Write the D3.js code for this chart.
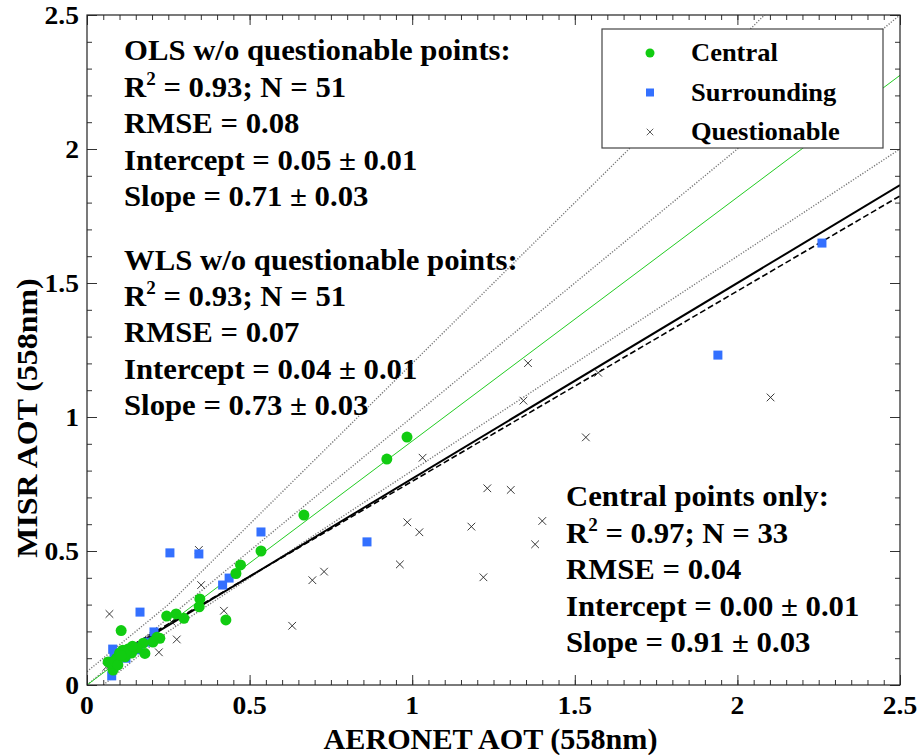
<!DOCTYPE html>
<html>
<head>
<meta charset="utf-8">
<script src="https://cdn.jsdelivr.net/npm/d3@7"></script>
<style>
  html, body { margin: 0; padding: 0; background: #fff; }
  svg text { font-family: "Liberation Serif", "Times New Roman", serif; font-weight: bold; }
</style>
</head>
<body>
<div id="chart"></div>
<script>
// data: [AERONET AOT, MISR AOT]
const central = [
  [0.984, 0.925], [0.922, 0.843], [0.667, 0.634], [0.535, 0.500], [0.472, 0.448],
  [0.458, 0.416], [0.427, 0.243], [0.347, 0.321], [0.345, 0.292], [0.298, 0.249],
  [0.274, 0.265], [0.245, 0.257], [0.224, 0.174], [0.215, 0.178], [0.203, 0.160],
  [0.178, 0.118], [0.173, 0.156], [0.153, 0.138], [0.137, 0.119], [0.126, 0.134],
  [0.117, 0.105], [0.110, 0.130], [0.105, 0.203], [0.100, 0.119], [0.091, 0.100],
  [0.080, 0.056], [0.065, 0.086], [0.075, 0.080], [0.085, 0.090], [0.095, 0.075],
  [0.120, 0.125], [0.140, 0.145], [0.105, 0.110]
];
const surrounding = [
  [2.260, 1.649], [1.940, 1.231], [0.861, 0.534], [0.535, 0.571], [0.255, 0.493],
  [0.344, 0.489], [0.437, 0.399], [0.417, 0.373], [0.163, 0.272], [0.206, 0.198],
  [0.160, 0.142], [0.079, 0.134], [0.083, 0.112], [0.076, 0.034], [0.157, 0.131],
  [0.090, 0.090], [0.120, 0.100], [0.190, 0.160]
];
const questionable = [
  [1.342, 1.061], [1.534, 0.924], [1.032, 0.848], [1.231, 0.734], [1.303, 0.728],
  [0.985, 0.607], [1.022, 0.570], [1.182, 0.591], [1.400, 0.612], [1.378, 0.525],
  [0.962, 0.450], [1.219, 0.402], [0.729, 0.423], [0.693, 0.391], [1.572, 1.165],
  [2.102, 1.073], [1.356, 1.201], [0.069, 0.265], [0.351, 0.373], [0.421, 0.277],
  [0.631, 0.221], [0.276, 0.170], [0.221, 0.122], [0.196, 0.171], [0.060, 0.068],
  [0.260, 0.236], [0.344, 0.504]
];

// fitted lines: [slope, intercept, xStart]
const wlsFit = [0.73, 0.04, 0.07];
const olsFit = [0.71, 0.05, 0.07];
const centralFit = [0.91, 0.00, 0];
// 1:1 line and the +-max(0.05, 20%) envelope (dotted), as vertices
const oneToOne = [[0, 0], [2.5, 2.5]];
const upperEnv = [[0, 0.05], [0.25, 0.30], [2.5, 3.0]];
const lowerEnv = [[0.05, 0], [0.25, 0.20], [2.5, 2.0]];

const xTicks = [0, 0.5, 1, 1.5, 2, 2.5];
const yTicks = [0, 0.5, 1, 1.5, 2, 2.5];

const olsText = ['OLS w/o questionable points:', 'R2 = 0.93; N = 51', 'RMSE = 0.08',
  'Intercept = 0.05 \u00b1 0.01', 'Slope = 0.71 \u00b1 0.03'];
const wlsText = ['WLS w/o questionable points:', 'R2 = 0.93; N = 51', 'RMSE = 0.07',
  'Intercept = 0.04 \u00b1 0.01', 'Slope = 0.73 \u00b1 0.03'];
const centralText = ['Central points only:', 'R2 = 0.97; N = 33', 'RMSE = 0.04',
  'Intercept = 0.00 \u00b1 0.01', 'Slope = 0.91 \u00b1 0.03'];

const legendItems = ['Central', 'Surrounding', 'Questionable'];

const width = 919, height = 755;
const margin = {top: 15, right: 19, bottom: 70, left: 87};
const x0 = margin.left, x1 = width - margin.right;
const y0 = height - margin.bottom, y1 = margin.top;

const svg = d3.select('#chart').append('svg')
    .attr('width', width)
    .attr('height', height);

const x = d3.scaleLinear().domain([0, 2.5]).range([x0, x1]);
const y = d3.scaleLinear().domain([0, 2.5]).range([y0, y1]);

// text that is a bit wider than Liberation Serif (the original is stretched)
const label = (parent, tx, ty, size, sx = 1.06) => parent.append('text')
    .attr('transform', `translate(${tx},${ty}) scale(${sx},1)`)
    .attr('font-size', size);

const plot = svg.append('g');
plot.append('clipPath').attr('id', 'clip')
    .append('rect').attr('x', x0).attr('y', y1).attr('width', x1 - x0).attr('height', y0 - y1);

const lines = plot.append('g').attr('clip-path', 'url(#clip)');

const line = d3.line().x((d) => x(d[0])).y((d) => y(d[1]));
const fitLine = ([m, b, xs]) => line([[xs, m * xs + b], [2.5, m * 2.5 + b]]);

[oneToOne, upperEnv, lowerEnv].forEach((r) => {
  lines.append('path').attr('d', line(r))
      .attr('stroke', '#777').attr('stroke-width', 1.4)
      .attr('stroke-dasharray', '1.2,1.6').attr('fill', 'none');
});

lines.append('path').attr('d', fitLine(centralFit))
    .attr('stroke', '#22cc22').attr('stroke-width', 1).attr('fill', 'none');

// markers
const pts = plot.append('g');
pts.selectAll('path.q').data(questionable).join('path')
    .attr('class', 'q')
    .attr('d', d3.symbol(d3.symbolX, 40))
    .attr('transform', (d) => `translate(${x(d[0])},${y(d[1])})`)
    .attr('fill', 'none').attr('stroke', '#222').attr('stroke-width', 0.9);

pts.selectAll('rect.s').data(surrounding).join('rect')
    .attr('class', 's')
    .attr('x', (d) => x(d[0]) - 4.5).attr('y', (d) => y(d[1]) - 4.5)
    .attr('width', 9).attr('height', 9)
    .attr('fill', '#3370ff');

pts.selectAll('circle.c').data(central).join('circle')
    .attr('class', 'c')
    .attr('cx', (d) => x(d[0])).attr('cy', (d) => y(d[1]))
    .attr('r', 5.5)
    .attr('fill', '#11cc11');

lines.append('path').attr('d', fitLine(olsFit))
    .attr('stroke', '#000').attr('stroke-width', 1.6)
    .attr('stroke-dasharray', '6,3').attr('fill', 'none');
lines.append('path').attr('d', fitLine(wlsFit))
    .attr('stroke', '#000').attr('stroke-width', 2).attr('fill', 'none');

// axes with inward ticks on all four sides
const axes = svg.append('g');
const xMinor = d3.range(0, 2.5001, 0.05);
const yMinor = d3.range(0, 2.5001, 0.1);

function tickAxis(axisFn, scale, minor, majorVals, pos, isX) {
  const tr = isX ? `translate(0,${pos})` : `translate(${pos},0)`;
  const g = axes.append('g').attr('transform', tr);
  g.call(axisFn(scale).tickValues(minor).tickSize(-5).tickFormat(''));
  g.call((s) => s.select('.domain').remove());
  const g2 = axes.append('g').attr('transform', tr);
  g2.call(axisFn(scale).tickValues(majorVals).tickSize(-10).tickFormat(''));
  g2.call((s) => s.select('.domain').remove());
}
tickAxis(d3.axisBottom, x, xMinor, xTicks, y0, true);
tickAxis(d3.axisTop, x, xMinor, xTicks, y1, true);
tickAxis(d3.axisLeft, y, yMinor, yTicks, x0, false);
tickAxis(d3.axisRight, y, yMinor, yTicks, x1, false);
axes.selectAll('.tick line').attr('stroke', '#333');

axes.append('rect')
    .attr('x', x0).attr('y', y1).attr('width', x1 - x0).attr('height', y0 - y1)
    .attr('fill', 'none').attr('stroke', '#222').attr('stroke-width', 1.2);

// tick labels
xTicks.forEach((d) => {
  label(svg, x(d), y0 + 29, 26).attr('text-anchor', 'middle').text(d3.format('~g')(d));
});
yTicks.forEach((d) => {
  label(svg, x0 - 8, y(d) + 9, 26).attr('text-anchor', 'end').text(d3.format('~g')(d));
});

label(svg, (x0 + x1) / 2 - 3, 749, 29, 1.04).attr('text-anchor', 'middle').text('AERONET AOT (558nm)');
svg.append('text')
    .attr('transform', `translate(37,418) rotate(-90) scale(1.1,1)`)
    .attr('text-anchor', 'middle').attr('font-size', 29)
    .text('MISR AOT (558nm)');

// annotation blocks
function block(rows, tx, ty, step) {
  rows.forEach((t, i) => {
    const el = label(svg, tx, ty + i * step, 29);
    if (t.startsWith('R2')) {
      el.append('tspan').text('R');
      el.append('tspan').attr('font-size', 18).attr('dy', -12).text('2');
      el.append('tspan').attr('dy', 12).text(t.slice(2));
    } else {
      el.text(t);
    }
  });
}
block(olsText, 124, 60, 36.5);
block(wlsText, 124, 270, 36.2);
block(centralText, 566, 506, 36.5);

// legend
const lg = svg.append('g');
lg.append('rect').attr('x', 602).attr('y', 29).attr('width', 281).attr('height', 119)
    .attr('fill', '#fff').attr('stroke', '#444').attr('stroke-width', 1.2);
legendItems.forEach((name, i) => {
  const cy = 53 + i * 39.5;
  if (i === 0) lg.append('circle').attr('cx', 650).attr('cy', cy).attr('r', 4.5).attr('fill', '#11cc11');
  if (i === 1) lg.append('rect').attr('x', 646).attr('y', cy - 4).attr('width', 8).attr('height', 8).attr('fill', '#3370ff');
  if (i === 2) lg.append('path').attr('d', d3.symbol(d3.symbolX, 30)())
      .attr('transform', `translate(650,${cy})`).attr('stroke', '#333').attr('stroke-width', 0.8).attr('fill', 'none');
  label(lg, 691, cy + 8, 25).text(name);
});
</script>
</body>
</html>
